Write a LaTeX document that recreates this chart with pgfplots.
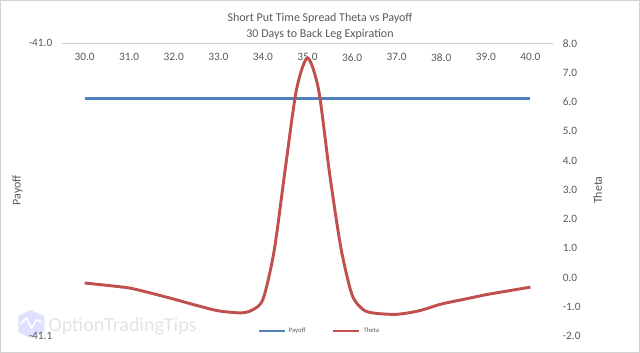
\documentclass[border=0pt]{standalone}
\usepackage{pgfplots}
\pgfplotsset{compat=1.18}
\usepackage{fontspec}
\setmainfont{Carlito}
\definecolor{txt}{HTML}{595959}
\definecolor{pblue}{HTML}{4F81BD}
\definecolor{pred}{HTML}{C0504D}
\begin{document}
\begin{tikzpicture}
\draw[gray!35, line width=0.6pt] (0pt,0pt) rectangle (480pt,264pt);
% watermark
\fill[blue!12] (13.5pt,15pt) -- (22.5pt,10.5pt) -- (33pt,15pt) -- (33pt,27pt) -- (22.5pt,31.5pt) -- (13.5pt,27pt) -- cycle;
\draw[white, line width=1.2pt] (15pt,21pt) -- (19.5pt,25.5pt) -- (23.25pt,18pt) -- (27pt,24pt) -- (31.5pt,22.5pt);
\node[anchor=west, text=gray!22, font=\fontsize{15}{15}\selectfont, inner sep=0pt] at (36pt,19.5pt) {OptionTradingTips};
% titles
\node[text=txt, font=\fontsize{9}{10}\selectfont] at (240pt,250.5pt) {Short Put Time Spread Theta vs Payoff};
\node[text=txt, font=\fontsize{9}{10}\selectfont] at (240pt,238.5pt) {30 Days to Back Leg Expiration};
\node[text=txt, rotate=90, font=\fontsize{9}{10}\selectfont] at (12.75pt,121.5pt) {Payoff};
\node[text=txt, rotate=90, font=\fontsize{9}{10}\selectfont] at (448.5pt,121.5pt) {Theta};
\begin{axis}[
  at={(46.5pt,12pt)}, anchor=south west,
  scale only axis, width=368.25pt, height=219.75pt,
  xmin=29.5, xmax=40.5, ymin=-41.1, ymax=-41.0,
  axis x line*=top, axis y line*=left,
  x axis line style={draw=gray!40, -, line width=0.6pt},
  y axis line style={draw=none},
  major tick length=0pt,
  xtick={30,31,...,40},
  ytick={-41.1,-41.0},
  xticklabel style={anchor=center, yshift=-10.5pt, text=txt, font=\fontsize{8.5}{9}\selectfont},
  yticklabel style={text=txt, font=\fontsize{8.5}{9}\selectfont, xshift=-4pt},
  /pgf/number format/assume math mode=true,
  /pgf/number format/.cd, fixed, fixed zerofill, precision=1,
]
\addplot[pblue, line width=2.2pt] coordinates {(30,-41.019) (31,-41.019) (32,-41.019) (33,-41.019) (34,-41.019) (35,-41.019) (36,-41.019) (37,-41.019) (38,-41.019) (39,-41.019) (40,-41.019)};
\end{axis}
\begin{axis}[
  at={(46.5pt,12pt)}, anchor=south west,
  scale only axis, width=368.25pt, height=219.75pt,
  xmin=29.5, xmax=40.5, ymin=-2, ymax=8,
  axis x line=none, axis y line*=right,
  y axis line style={draw=none},
  major tick length=0pt,
  ytick={-2,-1,...,8},
  yticklabel style={text=txt, font=\fontsize{8.5}{9}\selectfont, xshift=4pt},
  /pgf/number format/assume math mode=true,
  /pgf/number format/.cd, fixed, fixed zerofill, precision=1,
  /pgfplots/.cd,
  legend style={at={(0.525,0.017)}, anchor=center, draw=none, fill=none,
    font=\fontsize{5}{5}\selectfont, text=txt, legend columns=2,
    /tikz/every even column/.append style={column sep=18pt}},
  legend image code/.code={\draw[#1] (0pt,0pt) -- (19.5pt,0pt);},
]
\addlegendimage{pblue, line width=1.6pt}
\addlegendentry{Payoff}
\addplot[pred, line width=2.2pt, smooth, tension=0.45] coordinates {
(30.0,-0.19) (30.5,-0.27) (31.0,-0.36) (31.5,-0.54) (32.0,-0.74) (32.5,-0.95)
(33.0,-1.14) (33.5,-1.21) (33.75,-1.12) (34.0,-0.75) (34.25,0.9) (34.5,3.7)
(34.75,6.4) (35.0,7.5) (35.25,6.4) (35.5,3.5) (35.75,1.0) (36.0,-0.6)
(36.25,-1.1) (36.5,-1.22) (37.0,-1.26) (37.5,-1.14) (38.0,-0.91) (38.5,-0.75)
(39.0,-0.59) (39.5,-0.46) (40.0,-0.33)};
\addlegendentry{Theta}
\end{axis}
\end{tikzpicture}
\end{document}
